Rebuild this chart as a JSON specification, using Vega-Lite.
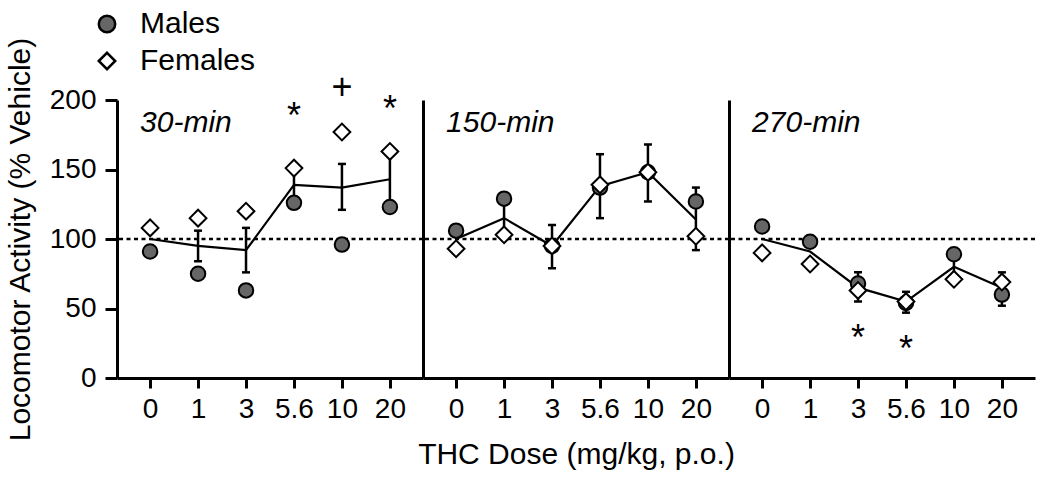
{
  "$schema": "https://vega.github.io/schema/vega-lite/v6.json",
  "background": "white",
  "padding": {"left": 5, "top": 9, "right": 5, "bottom": 5},
  "spacing": 0,
  "bounds": "flush",
  "datasets": {
    "pts": [
      {"panel": "30-min", "dose": "0", "sex": "Males", "v": 91},
      {"panel": "30-min", "dose": "1", "sex": "Males", "v": 75},
      {"panel": "30-min", "dose": "3", "sex": "Males", "v": 63},
      {"panel": "30-min", "dose": "5.6", "sex": "Males", "v": 126},
      {"panel": "30-min", "dose": "10", "sex": "Males", "v": 96},
      {"panel": "30-min", "dose": "20", "sex": "Males", "v": 123},
      {"panel": "30-min", "dose": "0", "sex": "Females", "v": 108},
      {"panel": "30-min", "dose": "1", "sex": "Females", "v": 115},
      {"panel": "30-min", "dose": "3", "sex": "Females", "v": 120},
      {"panel": "30-min", "dose": "5.6", "sex": "Females", "v": 151},
      {"panel": "30-min", "dose": "10", "sex": "Females", "v": 177},
      {"panel": "30-min", "dose": "20", "sex": "Females", "v": 163},
      {"panel": "150-min", "dose": "0", "sex": "Males", "v": 106},
      {"panel": "150-min", "dose": "1", "sex": "Males", "v": 129},
      {"panel": "150-min", "dose": "3", "sex": "Males", "v": 95},
      {"panel": "150-min", "dose": "5.6", "sex": "Males", "v": 137},
      {"panel": "150-min", "dose": "10", "sex": "Males", "v": 148},
      {"panel": "150-min", "dose": "20", "sex": "Males", "v": 127},
      {"panel": "150-min", "dose": "0", "sex": "Females", "v": 93},
      {"panel": "150-min", "dose": "1", "sex": "Females", "v": 103},
      {"panel": "150-min", "dose": "3", "sex": "Females", "v": 95},
      {"panel": "150-min", "dose": "5.6", "sex": "Females", "v": 139},
      {"panel": "150-min", "dose": "10", "sex": "Females", "v": 148},
      {"panel": "150-min", "dose": "20", "sex": "Females", "v": 102},
      {"panel": "270-min", "dose": "0", "sex": "Males", "v": 109},
      {"panel": "270-min", "dose": "1", "sex": "Males", "v": 98},
      {"panel": "270-min", "dose": "3", "sex": "Males", "v": 68},
      {"panel": "270-min", "dose": "5.6", "sex": "Males", "v": 54},
      {"panel": "270-min", "dose": "10", "sex": "Males", "v": 89},
      {"panel": "270-min", "dose": "20", "sex": "Males", "v": 60},
      {"panel": "270-min", "dose": "0", "sex": "Females", "v": 90},
      {"panel": "270-min", "dose": "1", "sex": "Females", "v": 82},
      {"panel": "270-min", "dose": "3", "sex": "Females", "v": 63},
      {"panel": "270-min", "dose": "5.6", "sex": "Females", "v": 55},
      {"panel": "270-min", "dose": "10", "sex": "Females", "v": 71},
      {"panel": "270-min", "dose": "20", "sex": "Females", "v": 69}
    ],
    "means": [
      {"panel": "30-min", "dose": "0", "mean": 100, "lo": null, "hi": null},
      {"panel": "30-min", "dose": "1", "mean": 95, "lo": 84, "hi": 106},
      {"panel": "30-min", "dose": "3", "mean": 92, "lo": 76, "hi": 108},
      {"panel": "30-min", "dose": "5.6", "mean": 139, "lo": 126, "hi": 152},
      {"panel": "30-min", "dose": "10", "mean": 137, "lo": 121, "hi": 154},
      {"panel": "30-min", "dose": "20", "mean": 143, "lo": 125, "hi": 161},
      {"panel": "150-min", "dose": "0", "mean": 100, "lo": null, "hi": null},
      {"panel": "150-min", "dose": "1", "mean": 115, "lo": 102, "hi": 128},
      {"panel": "150-min", "dose": "3", "mean": 95, "lo": 79, "hi": 110},
      {"panel": "150-min", "dose": "5.6", "mean": 138, "lo": 115, "hi": 161},
      {"panel": "150-min", "dose": "10", "mean": 148, "lo": 127, "hi": 168},
      {"panel": "150-min", "dose": "20", "mean": 114, "lo": 92, "hi": 137},
      {"panel": "270-min", "dose": "0", "mean": 100, "lo": null, "hi": null},
      {"panel": "270-min", "dose": "1", "mean": 91, "lo": null, "hi": null},
      {"panel": "270-min", "dose": "3", "mean": 65, "lo": 55, "hi": 76},
      {"panel": "270-min", "dose": "5.6", "mean": 55, "lo": 47, "hi": 62},
      {"panel": "270-min", "dose": "10", "mean": 80, "lo": 72, "hi": 88},
      {"panel": "270-min", "dose": "20", "mean": 65, "lo": 52, "hi": 76}
    ],
    "marks": [
      {"panel": "30-min", "dose": "5.6", "y": 180, "label": "*"},
      {"panel": "30-min", "dose": "10", "y": 201, "label": "+"},
      {"panel": "30-min", "dose": "20", "y": 185, "label": "*"},
      {"panel": "270-min", "dose": "3", "y": 20, "label": "*"},
      {"panel": "270-min", "dose": "5.6", "y": 12, "label": "*"}
    ],
    "titles": [
      {"panel": "30-min", "dose": "0", "y": 177, "label": "30-min"},
      {"panel": "150-min", "dose": "0", "y": 177, "label": "150-min"},
      {"panel": "270-min", "dose": "0", "y": 177, "label": "270-min"}
    ]
  },
  "config": {
    "font": "Liberation Sans",
    "view": {"stroke": null},
    "concat": {"spacing": 0},
    "axis": {
      "domainColor": "black", "domainWidth": 3, "tickColor": "black", "tickWidth": 3,
      "labelFontSize": 28, "labelColor": "black", "titleFontSize": 30, "titleFontWeight": "normal",
      "titleColor": "black", "grid": false, "labelFont": "Liberation Sans", "titleFont": "Liberation Sans"
    },
    "legend": {
      "orient": "none", "legendX": -25, "legendY": -91, "title": null,
      "labelFontSize": 30, "labelColor": "black", "symbolSize": 270, "symbolStrokeColor": "black",
      "symbolStrokeWidth": 2.5, "rowPadding": 7, "labelOffset": 18
    }
  },
  "hconcat": [
    {
      "width": 306, "height": 278,
      "layer": [
        {"data": {"values": [{"ref": 100}]}, "mark": {"type": "rule", "strokeDash": [4, 3.5], "strokeWidth": 2.5, "color": "black"},
         "encoding": {"y": {"field": "ref", "type": "quantitative", "scale": {"domain": [0, 200], "nice": false},
           "axis": {"title": "Locomotor Activity (% Vehicle)", "values": [0, 50, 100, 150, 200], "tickSize": 12, "labelPadding": 9, "titlePadding": 14}}}},
        {"data": {"name": "means"}, "transform": [{"filter": "datum.panel == '30-min'"}], "mark": {"type": "line", "color": "black", "strokeWidth": 2.2},
         "encoding": {"x": {"field": "dose", "type": "ordinal", "sort": ["0", "1", "3", "5.6", "10", "20"], "scale": {"type": "point", "padding": 0.69},
           "axis": {"title": null, "labelAngle": 0, "tickSize": 10, "labelPadding": 7}},
           "y": {"field": "mean", "type": "quantitative"}}},
        {"data": {"name": "means"}, "transform": [{"filter": "datum.panel == '30-min' && datum.lo != null"}], "mark": {"type": "rule", "color": "black", "strokeWidth": 2.5},
         "encoding": {"x": {"field": "dose", "type": "ordinal", "sort": ["0", "1", "3", "5.6", "10", "20"]}, "y": {"field": "lo", "type": "quantitative"}, "y2": {"field": "hi"}}},
        {"data": {"name": "means"}, "transform": [{"filter": "datum.panel == '30-min' && datum.lo != null"}], "mark": {"type": "tick", "color": "black", "size": 8, "thickness": 2.5, "opacity": 1},
         "encoding": {"x": {"field": "dose", "type": "ordinal", "sort": ["0", "1", "3", "5.6", "10", "20"]}, "y": {"field": "lo", "type": "quantitative"}}},
        {"data": {"name": "means"}, "transform": [{"filter": "datum.panel == '30-min' && datum.lo != null"}], "mark": {"type": "tick", "color": "black", "size": 8, "thickness": 2.5, "opacity": 1},
         "encoding": {"x": {"field": "dose", "type": "ordinal", "sort": ["0", "1", "3", "5.6", "10", "20"]}, "y": {"field": "hi", "type": "quantitative"}}},
        {"data": {"name": "pts"}, "transform": [{"filter": "datum.panel == '30-min' && datum.sex == 'Males'"}], "mark": {"type": "point", "filled": true, "strokeWidth": 2, "opacity": 1, "size": 210},
         "encoding": {"x": {"field": "dose", "type": "ordinal", "sort": ["0", "1", "3", "5.6", "10", "20"]}, "y": {"field": "v", "type": "quantitative"},
           "shape": {"field": "sex", "type": "nominal", "scale": {"domain": ["Males", "Females"], "range": ["circle", "diamond"]}},
           "fill": {"field": "sex", "type": "nominal", "scale": {"domain": ["Males", "Females"], "range": ["#666666", "white"]}},
           "stroke": {"field": "sex", "type": "nominal", "scale": {"domain": ["Males", "Females"], "range": ["black", "black"]}}}},
        {"data": {"name": "pts"}, "transform": [{"filter": "datum.panel == '30-min' && datum.sex == 'Females'"}], "mark": {"type": "point", "filled": true, "strokeWidth": 2, "opacity": 1, "size": 280},
         "encoding": {"x": {"field": "dose", "type": "ordinal", "sort": ["0", "1", "3", "5.6", "10", "20"]}, "y": {"field": "v", "type": "quantitative"},
           "shape": {"field": "sex", "type": "nominal", "scale": {"domain": ["Males", "Females"], "range": ["circle", "diamond"]}},
           "fill": {"field": "sex", "type": "nominal", "scale": {"domain": ["Males", "Females"], "range": ["#666666", "white"]}},
           "stroke": {"field": "sex", "type": "nominal", "scale": {"domain": ["Males", "Females"], "range": ["black", "black"]}}}},
        {"data": {"name": "marks"}, "transform": [{"filter": "datum.panel == '30-min'"}], "mark": {"type": "text", "fontSize": 36, "baseline": "alphabetic", "align": "center", "color": "black"},
         "encoding": {"x": {"field": "dose", "type": "ordinal", "sort": ["0", "1", "3", "5.6", "10", "20"]}, "y": {"field": "y", "type": "quantitative"}, "text": {"field": "label"}}},
        {"data": {"name": "titles"}, "transform": [{"filter": "datum.panel == '30-min'"}], "mark": {"type": "text", "fontSize": 30, "fontStyle": "italic", "baseline": "alphabetic", "align": "left", "dx": -10, "color": "black"},
         "encoding": {"x": {"field": "dose", "type": "ordinal", "sort": ["0", "1", "3", "5.6", "10", "20"]}, "y": {"field": "y", "type": "quantitative"}, "text": {"field": "label"}}}
      ]
    },
    {
      "width": 306, "height": 278,
      "layer": [
        {"data": {"values": [{"ref": 100}]}, "mark": {"type": "rule", "strokeDash": [4, 3.5], "strokeWidth": 2.5, "color": "black"},
         "encoding": {"y": {"field": "ref", "type": "quantitative", "scale": {"domain": [0, 200], "nice": false},
           "axis": {"title": null, "labels": false, "ticks": false, "values": [0, 50, 100, 150, 200]}}}},
        {"data": {"name": "means"}, "transform": [{"filter": "datum.panel == '150-min'"}], "mark": {"type": "line", "color": "black", "strokeWidth": 2.2},
         "encoding": {"x": {"field": "dose", "type": "ordinal", "sort": ["0", "1", "3", "5.6", "10", "20"], "scale": {"type": "point", "padding": 0.69},
           "axis": {"title": "THC Dose (mg/kg, p.o.)", "labelAngle": 0, "tickSize": 10, "labelPadding": 7, "titlePadding": 16}},
           "y": {"field": "mean", "type": "quantitative"}}},
        {"data": {"name": "means"}, "transform": [{"filter": "datum.panel == '150-min' && datum.lo != null"}], "mark": {"type": "rule", "color": "black", "strokeWidth": 2.5},
         "encoding": {"x": {"field": "dose", "type": "ordinal", "sort": ["0", "1", "3", "5.6", "10", "20"]}, "y": {"field": "lo", "type": "quantitative"}, "y2": {"field": "hi"}}},
        {"data": {"name": "means"}, "transform": [{"filter": "datum.panel == '150-min' && datum.lo != null"}], "mark": {"type": "tick", "color": "black", "size": 8, "thickness": 2.5, "opacity": 1},
         "encoding": {"x": {"field": "dose", "type": "ordinal", "sort": ["0", "1", "3", "5.6", "10", "20"]}, "y": {"field": "lo", "type": "quantitative"}}},
        {"data": {"name": "means"}, "transform": [{"filter": "datum.panel == '150-min' && datum.lo != null"}], "mark": {"type": "tick", "color": "black", "size": 8, "thickness": 2.5, "opacity": 1},
         "encoding": {"x": {"field": "dose", "type": "ordinal", "sort": ["0", "1", "3", "5.6", "10", "20"]}, "y": {"field": "hi", "type": "quantitative"}}},
        {"data": {"name": "pts"}, "transform": [{"filter": "datum.panel == '150-min' && datum.sex == 'Males'"}], "mark": {"type": "point", "filled": true, "strokeWidth": 2, "opacity": 1, "size": 210},
         "encoding": {"x": {"field": "dose", "type": "ordinal", "sort": ["0", "1", "3", "5.6", "10", "20"]}, "y": {"field": "v", "type": "quantitative"},
           "shape": {"field": "sex", "type": "nominal", "scale": {"domain": ["Males", "Females"], "range": ["circle", "diamond"]}},
           "fill": {"field": "sex", "type": "nominal", "scale": {"domain": ["Males", "Females"], "range": ["#666666", "white"]}},
           "stroke": {"field": "sex", "type": "nominal", "scale": {"domain": ["Males", "Females"], "range": ["black", "black"]}}}},
        {"data": {"name": "pts"}, "transform": [{"filter": "datum.panel == '150-min' && datum.sex == 'Females'"}], "mark": {"type": "point", "filled": true, "strokeWidth": 2, "opacity": 1, "size": 280},
         "encoding": {"x": {"field": "dose", "type": "ordinal", "sort": ["0", "1", "3", "5.6", "10", "20"]}, "y": {"field": "v", "type": "quantitative"},
           "shape": {"field": "sex", "type": "nominal", "scale": {"domain": ["Males", "Females"], "range": ["circle", "diamond"]}},
           "fill": {"field": "sex", "type": "nominal", "scale": {"domain": ["Males", "Females"], "range": ["#666666", "white"]}},
           "stroke": {"field": "sex", "type": "nominal", "scale": {"domain": ["Males", "Females"], "range": ["black", "black"]}}}},
        {"data": {"name": "titles"}, "transform": [{"filter": "datum.panel == '150-min'"}], "mark": {"type": "text", "fontSize": 30, "fontStyle": "italic", "baseline": "alphabetic", "align": "left", "dx": -10, "color": "black"},
         "encoding": {"x": {"field": "dose", "type": "ordinal", "sort": ["0", "1", "3", "5.6", "10", "20"]}, "y": {"field": "y", "type": "quantitative"}, "text": {"field": "label"}}}
      ]
    },
    {
      "width": 306, "height": 278,
      "layer": [
        {"data": {"values": [{"ref": 100}]}, "mark": {"type": "rule", "strokeDash": [4, 3.5], "strokeWidth": 2.5, "color": "black"},
         "encoding": {"y": {"field": "ref", "type": "quantitative", "scale": {"domain": [0, 200], "nice": false},
           "axis": {"title": null, "labels": false, "ticks": false, "values": [0, 50, 100, 150, 200]}}}},
        {"data": {"name": "means"}, "transform": [{"filter": "datum.panel == '270-min'"}], "mark": {"type": "line", "color": "black", "strokeWidth": 2.2},
         "encoding": {"x": {"field": "dose", "type": "ordinal", "sort": ["0", "1", "3", "5.6", "10", "20"], "scale": {"type": "point", "padding": 0.69},
           "axis": {"title": null, "labelAngle": 0, "tickSize": 10, "labelPadding": 7}},
           "y": {"field": "mean", "type": "quantitative"}}},
        {"data": {"name": "means"}, "transform": [{"filter": "datum.panel == '270-min' && datum.lo != null"}], "mark": {"type": "rule", "color": "black", "strokeWidth": 2.5},
         "encoding": {"x": {"field": "dose", "type": "ordinal", "sort": ["0", "1", "3", "5.6", "10", "20"]}, "y": {"field": "lo", "type": "quantitative"}, "y2": {"field": "hi"}}},
        {"data": {"name": "means"}, "transform": [{"filter": "datum.panel == '270-min' && datum.lo != null"}], "mark": {"type": "tick", "color": "black", "size": 8, "thickness": 2.5, "opacity": 1},
         "encoding": {"x": {"field": "dose", "type": "ordinal", "sort": ["0", "1", "3", "5.6", "10", "20"]}, "y": {"field": "lo", "type": "quantitative"}}},
        {"data": {"name": "means"}, "transform": [{"filter": "datum.panel == '270-min' && datum.lo != null"}], "mark": {"type": "tick", "color": "black", "size": 8, "thickness": 2.5, "opacity": 1},
         "encoding": {"x": {"field": "dose", "type": "ordinal", "sort": ["0", "1", "3", "5.6", "10", "20"]}, "y": {"field": "hi", "type": "quantitative"}}},
        {"data": {"name": "pts"}, "transform": [{"filter": "datum.panel == '270-min' && datum.sex == 'Males'"}], "mark": {"type": "point", "filled": true, "strokeWidth": 2, "opacity": 1, "size": 210},
         "encoding": {"x": {"field": "dose", "type": "ordinal", "sort": ["0", "1", "3", "5.6", "10", "20"]}, "y": {"field": "v", "type": "quantitative"},
           "shape": {"field": "sex", "type": "nominal", "scale": {"domain": ["Males", "Females"], "range": ["circle", "diamond"]}},
           "fill": {"field": "sex", "type": "nominal", "scale": {"domain": ["Males", "Females"], "range": ["#666666", "white"]}},
           "stroke": {"field": "sex", "type": "nominal", "scale": {"domain": ["Males", "Females"], "range": ["black", "black"]}}}},
        {"data": {"name": "pts"}, "transform": [{"filter": "datum.panel == '270-min' && datum.sex == 'Females'"}], "mark": {"type": "point", "filled": true, "strokeWidth": 2, "opacity": 1, "size": 280},
         "encoding": {"x": {"field": "dose", "type": "ordinal", "sort": ["0", "1", "3", "5.6", "10", "20"]}, "y": {"field": "v", "type": "quantitative"},
           "shape": {"field": "sex", "type": "nominal", "scale": {"domain": ["Males", "Females"], "range": ["circle", "diamond"]}},
           "fill": {"field": "sex", "type": "nominal", "scale": {"domain": ["Males", "Females"], "range": ["#666666", "white"]}},
           "stroke": {"field": "sex", "type": "nominal", "scale": {"domain": ["Males", "Females"], "range": ["black", "black"]}}}},
        {"data": {"name": "marks"}, "transform": [{"filter": "datum.panel == '270-min'"}], "mark": {"type": "text", "fontSize": 36, "baseline": "alphabetic", "align": "center", "color": "black"},
         "encoding": {"x": {"field": "dose", "type": "ordinal", "sort": ["0", "1", "3", "5.6", "10", "20"]}, "y": {"field": "y", "type": "quantitative"}, "text": {"field": "label"}}},
        {"data": {"name": "titles"}, "transform": [{"filter": "datum.panel == '270-min'"}], "mark": {"type": "text", "fontSize": 30, "fontStyle": "italic", "baseline": "alphabetic", "align": "left", "dx": -10, "color": "black"},
         "encoding": {"x": {"field": "dose", "type": "ordinal", "sort": ["0", "1", "3", "5.6", "10", "20"]}, "y": {"field": "y", "type": "quantitative"}, "text": {"field": "label"}}}
      ]
    }
  ]
}
